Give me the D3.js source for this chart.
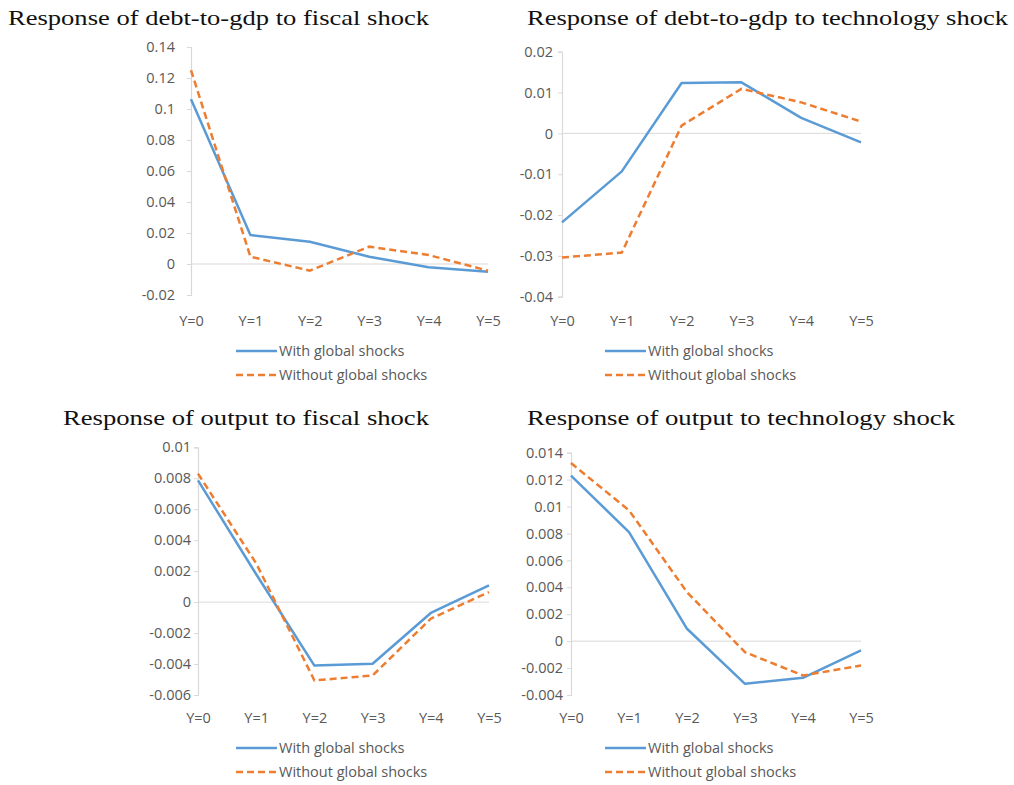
<!DOCTYPE html>
<html><head><meta charset="utf-8">
<script src="https://cdn.jsdelivr.net/npm/d3@7"></script>
<style>body{margin:0;background:#fff}svg{display:block}</style>
</head><body>
<script>
const categories = ["Y=0","Y=1","Y=2","Y=3","Y=4","Y=5"];
const seriesNames = ["With global shocks","Without global shocks"];
const titles = [
  "Response of debt-to-gdp to fiscal shock",
  "Response of debt-to-gdp to technology shock",
  "Response of output to fiscal shock",
  "Response of output to technology shock"
];
const debtFiscalWith = [0.1063, 0.0187, 0.0144, 0.0047, -0.0021, -0.005];
const debtFiscalWithout = [0.125, 0.0047, -0.0043, 0.0112, 0.0058, -0.0043];
const debtTechWith = [-0.0218, -0.0093, 0.01235, 0.0125, 0.0038, -0.0022];
const debtTechWithout = [-0.0304, -0.0292, 0.0019, 0.0109, 0.0076, 0.0029];
const outFiscalWith = [0.00786, 0.0018, -0.0041, -0.00398, -0.0007, 0.00108];
const outFiscalWithout = [0.0083, 0.0025, -0.00506, -0.00474, -0.00107, 0.00065];
const outTechWith = [0.0123, 0.0081, 0.00092, -0.00317, -0.00272, -0.00069];
const outTechWithout = [0.01323, 0.00972, 0.00364, -0.00082, -0.00255, -0.00181];
const ticksDebtFiscal = [-0.02, 0, 0.02, 0.04, 0.06, 0.08, 0.1, 0.12, 0.14];
const ticksDebtTech = [-0.04, -0.03, -0.02, -0.01, 0, 0.01, 0.02];
const ticksOutFiscal = [-0.006, -0.004, -0.002, 0, 0.002, 0.004, 0.006, 0.008, 0.01];
const ticksOutTech = [-0.004, -0.002, 0, 0.002, 0.004, 0.006, 0.008, 0.01, 0.012, 0.014];

const W = 1014, H = 785;
const svg = d3.select("body").append("svg").attr("width", W).attr("height", H);

const panels = [
  {title: titles[0], tAnchor: "end", tx: 429, ty: 25, tLen: 421, with: debtFiscalWith, without: debtFiscalWithout, ticks: ticksDebtFiscal,
   x0: 191, x1: 488, yTop: 47, yBot: 295, labGap: 16, xlabY: 321, legX: 236, legY: 351},
  {title: titles[1], tAnchor: "start", tx: 527, ty: 25, tLen: 481, with: debtTechWith, without: debtTechWithout, ticks: ticksDebtTech,
   x0: 562, x1: 861, yTop: 51.7, yBot: 296.7, labGap: 9, xlabY: 321, legX: 605, legY: 351},
  {title: titles[2], tAnchor: "end", tx: 429, ty: 425, tLen: 366, with: outFiscalWith, without: outFiscalWithout, ticks: ticksOutFiscal,
   x0: 198, x1: 489, yTop: 447.3, yBot: 695, labGap: 7, xlabY: 718, legX: 236, legY: 748},
  {title: titles[3], tAnchor: "start", tx: 527, ty: 425, tLen: 428, with: outTechWith, without: outTechWithout, ticks: ticksOutTech,
   x0: 571, x1: 861, yTop: 452.7, yBot: 695, labGap: 8, xlabY: 718, legX: 605, legY: 748}
];

const blue = "#5B9BD5", orange = "#ED7D31", axisCol = "#D9D9D9", textCol = "#595959";
const fmt = v => String(+v.toFixed(4));
const sans = "'Open Sans', 'Liberation Sans', sans-serif";

panels.forEach(p => {
  const g = svg.append("g");
  const x = d3.scalePoint().domain(categories).range([p.x0, p.x1]);
  const y = d3.scaleLinear().domain(d3.extent(p.ticks)).range([p.yBot, p.yTop]);

  g.append("text").attr("x", p.tx).attr("y", p.ty).attr("text-anchor", p.tAnchor)
    .attr("textLength", p.tLen).attr("lengthAdjust", "spacingAndGlyphs")
    .style("font-family", "'Liberation Serif', 'DejaVu Serif', serif").style("font-size", "21px")
    .attr("fill", "#111").text(p.title);

  const yAxis = d3.axisLeft(y).tickValues(p.ticks).tickFormat(fmt).tickSize(4).tickPadding(p.labGap - 4);
  const ya = g.append("g").attr("transform", `translate(${p.x0},0)`).call(yAxis);
  ya.select(".domain").attr("stroke", axisCol).attr("stroke-width", 1.2);
  ya.selectAll(".tick line").attr("stroke", axisCol);
  ya.selectAll(".tick text").attr("fill", textCol)
    .style("font-family", sans).style("font-size", "14.5px");

  g.append("line").attr("x1", p.x0).attr("x2", p.x1).attr("y1", y(0)).attr("y2", y(0))
    .attr("stroke", axisCol).attr("stroke-width", 1);

  const xAxis = d3.axisBottom(x).tickSize(0).tickPadding(0);
  const xa = g.append("g").attr("transform", `translate(0,${p.xlabY})`).call(xAxis);
  xa.select(".domain").remove();
  xa.selectAll(".tick text").attr("fill", textCol).attr("dy", "0.35em")
    .style("font-family", sans).style("font-size", "14.5px");

  const line = d3.line().x((d, i) => x(categories[i])).y(d => y(d));
  g.append("path").datum(p.with).attr("d", line).attr("fill", "none")
    .attr("stroke", blue).attr("stroke-width", 2.5).attr("stroke-linejoin", "round");
  g.append("path").datum(p.without).attr("d", line).attr("fill", "none")
    .attr("stroke", orange).attr("stroke-width", 2.5).attr("stroke-dasharray", "7,4");

  const leg = [{c: blue, d: null, n: seriesNames[0]}, {c: orange, d: "7,4", n: seriesNames[1]}];
  leg.forEach((l, i) => {
    const ly = p.legY + i * 24;
    g.append("line").attr("x1", p.legX).attr("x2", p.legX + 41).attr("y1", ly).attr("y2", ly)
      .attr("stroke", l.c).attr("stroke-width", 2.5).attr("stroke-dasharray", l.d);
    g.append("text").attr("x", p.legX + 43).attr("y", ly).attr("dy", "0.35em").attr("fill", textCol)
      .style("font-family", sans).style("font-size", "14.5px").text(l.n);
  });
});
</script>
</body></html>
